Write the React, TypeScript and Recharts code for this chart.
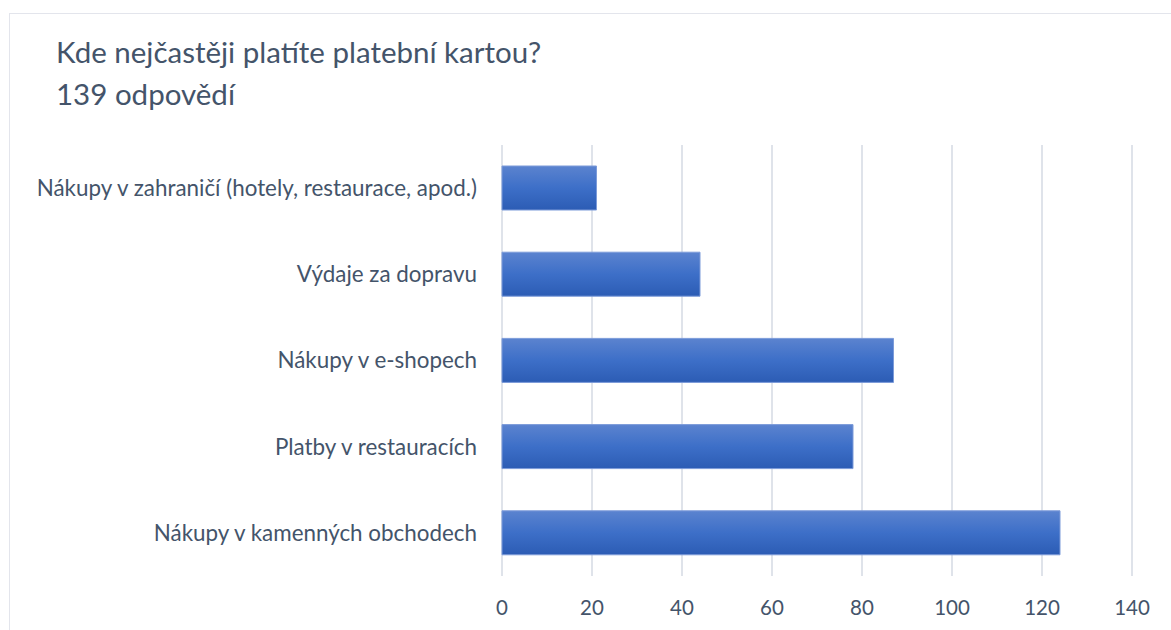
import { Bar, BarChart, CartesianGrid, XAxis, YAxis } from 'recharts'

const CATEGORIES = [
  'Nákupy v zahraničí (hotely, restaurace, apod.)',
  'Výdaje za dopravu',
  'Nákupy v e-shopech',
  'Platby v restauracích',
  'Nákupy v kamenných obchodech',
]
const COUNTS = [21, 44, 87, 78, 124]
const X_TICKS = [0, 20, 40, 60, 80, 100, 120, 140]

const TITLE = 'Kde nejčastěji platíte platební kartou?'
const SUBTITLE = '139 odpovědí'

const textColor = '#44546a'
const gridColor = '#dfe3ea'
const font = 'Lato, "Open Sans", sans-serif'

export default function App() {
  const rows = CATEGORIES.map((name, i) => ({ name, count: COUNTS[i] }))

  return (
    <div style={{ position: 'absolute', left: 0, top: 0, width: 1171, height: 630, background: '#fff', overflow: 'hidden', fontFamily: font }}>
      {/* frame of the chart object */}
      <div style={{ position: 'absolute', left: 9, top: 13, width: 1200, height: 700, border: '1px solid #e3e5ec' }} />

      <div style={{ position: 'absolute', left: 56, top: 31, color: textColor, fontSize: 29.5, lineHeight: '42px' }}>
        <div>{TITLE}</div>
        <div>{SUBTITLE}</div>
      </div>

      <div style={{ position: 'absolute', left: 0, top: 0 }}>
        <BarChart
          width={1171}
          height={630}
          data={rows}
          layout="vertical"
          barSize={44}
          margin={{ top: 145, right: 39, left: 0, bottom: 24 }}
        >
          <defs>
            <linearGradient id="bar-grad" x1="0" y1="0" x2="0" y2="1">
              <stop offset="0%" stopColor="#5b83cf" />
              <stop offset="50%" stopColor="#3d6fc8" />
              <stop offset="100%" stopColor="#2c5cb4" />
            </linearGradient>
          </defs>

          <CartesianGrid stroke={gridColor} strokeWidth={2} horizontal={false} />

          <XAxis
            type="number"
            domain={[0, 140]}
            ticks={X_TICKS}
            interval={0}
            axisLine={false}
            tickLine={false}
            tickSize={0}
            tickMargin={24}
            height={30}
            tick={{ fill: textColor, fontSize: 20.5, fontFamily: font }}
          />
          <YAxis
            type="category"
            dataKey="name"
            width={502}
            axisLine={false}
            tickLine={false}
            tickSize={0}
            tickMargin={25}
            interval={0}
            tick={{ fill: textColor, fontSize: 22.4, fontFamily: font }}
          />

          <Bar
            dataKey="count"
            fill="url(#bar-grad)"
            stroke="#7c9bd9"
            strokeWidth={1}
            isAnimationActive={false}
          />
        </BarChart>
      </div>
    </div>
  )
}
